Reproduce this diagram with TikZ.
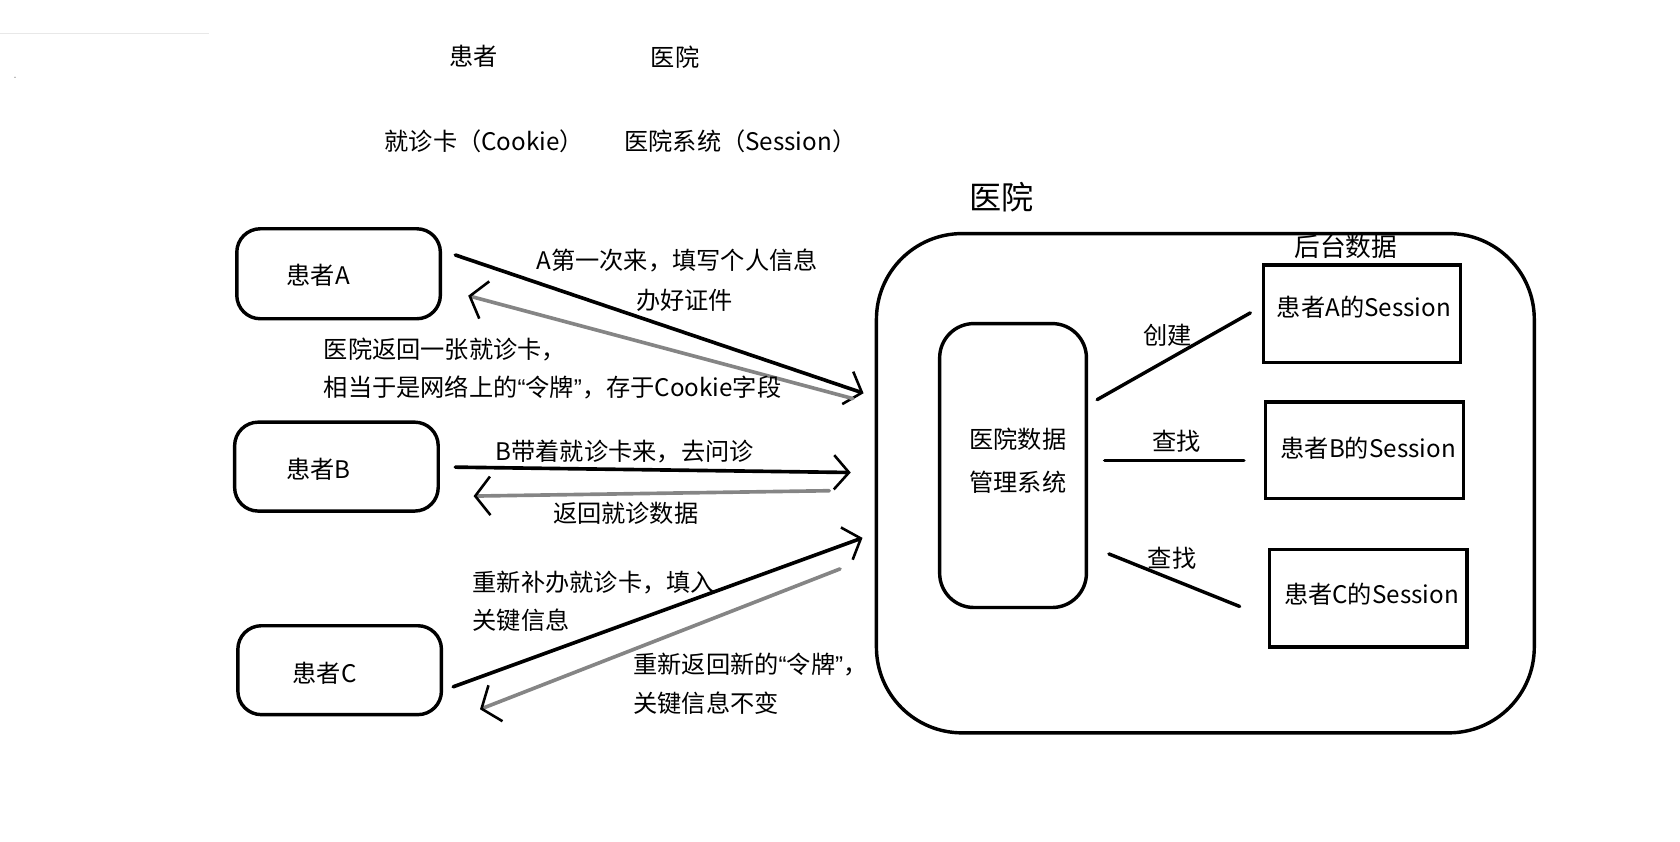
\documentclass[tikz,border=0pt]{standalone}
\usepackage{fontspec}
\setmainfont{Noto Sans CJK SC}
\newfontfamily\latq{Liberation Sans}
\newcommand{\myoq}{{\latq “}}
\newcommand{\mycq}{{\latq ”}}
\usetikzlibrary{arrows.meta}
\begin{document}
\begin{tikzpicture}[x=1pt,y=-1pt,
  txt/.style={font=\fontsize{22.6}{26}\selectfont, inner sep=0pt},
  big/.style={font=\fontsize{30}{35}\selectfont, inner sep=0pt},
  pbox/.style={draw, line width=3.2pt, rounded corners=22pt, minimum width=190pt, minimum height=84pt, inner sep=0pt},
  sbox/.style={draw, line width=3.2pt, minimum width=184pt, minimum height=91pt, inner sep=0pt},
  wire/.style={line width=3.2pt, line cap=round},
  fwd/.style={line width=3.4pt, line cap=round, -{Straight Barb[length=14pt,width=32pt,line width=2.4pt]}},
  ret/.style={line width=3.4pt, line cap=round, draw=black!48, -{Straight Barb[length=14pt,width=36pt,line width=2.4pt,color=black]}}
]
\useasboundingbox (0,0) rectangle (1568,785);
% faint header remnant
\draw[black!9, line width=1pt] (0,31) -- (195,31);
\fill[black!60] (14,72) circle (0.6pt);

% legend texts
\node[txt] (t1) at (442,53) {患者};
\node[txt] (t2) at (630,53) {医院};
\node[txt] (t3) at (452,132) {就诊卡（Cookie）};
\node[txt] (t4) at (691,132) {医院系统（Session）};
\node[big] (ttl) at (935,184) {医院};

% patients
\node[pbox] (pA) at (316,255.5) {};
\node[txt] (pAt) at (297,257) {患者A};
\node[pbox, minimum height=83pt] (pB) at (314,435.5) {};
\node[txt] (pBt) at (297,438) {患者B};
\node[pbox, minimum height=83pt] (pC) at (317,625.5) {};
\node[txt] (pCt) at (303,628) {患者C};

% hospital
\node[draw, line width=3.2pt, rounded corners=80pt, minimum width=614pt, minimum height=466pt] (hosp) at (1125,451) {};
\node[txt, font=\fontsize{24}{28}\selectfont] (bk) at (1256,230) {后台数据};
\node[draw, line width=3.2pt, rounded corners=32pt, minimum width=137pt, minimum height=265pt, inner sep=0pt] (sys) at (945.5,434.5) {};
\node[txt, align=center, font=\fontsize{22.6}{40}\selectfont] (syst) at (950,430) {医院数据\\管理系统};

\node[sbox] (sA) at (1271,293) {};
\node[txt] (sAt) at (1273,287) {患者A的Session};
\node[sbox, minimum width=185pt, minimum height=90pt] (sB) at (1273.5,420) {};
\node[txt] (sBt) at (1277,418) {患者B的Session};
\node[sbox] (sC) at (1277,558.5) {};
\node[txt] (sCt) at (1280,555) {患者C的Session};

% inner links
\coordinate (l1a) at (1024,373); \coordinate (l1b) at (1167,292);
\coordinate (l2a) at (1031,430); \coordinate (l2b) at (1161,430);
\coordinate (l3a) at (1035,517); \coordinate (l3b) at (1157,566);
\draw[wire] (l1a) -- (l1b);
\draw[wire] (l2a) -- (l2b);
\draw[wire] (l3a) -- (l3b);
\node[txt] (k1) at (1090,313) {创建};
\node[txt] (k2) at (1098,412) {查找};
\node[txt] (k3) at (1094,521) {查找};

% patient <-> hospital arrows
\coordinate (a1s) at (425,238); \coordinate (a1e) at (806,367);
\coordinate (a2s) at (796,372); \coordinate (a2e) at (437,276);
\coordinate (b1s) at (425,436); \coordinate (b1e) at (794,441);
\coordinate (b2s) at (774,458); \coordinate (b2e) at (442,463);
\coordinate (c1s) at (423,641); \coordinate (c1e) at (805,502);
\coordinate (c2s) at (784,531); \coordinate (c2e) at (448,662);
\draw[fwd] (a1s) -- (a1e);
\draw[ret] (a2s) -- (a2e);
\draw[fwd] (b1s) -- (b1e);
\draw[ret] (b2s) -- (b2e);
\draw[fwd] (c1s) -- (c1e);
\draw[ret] (c2s) -- (c2e);

% arrow labels
\node[txt] (m1) at (632,243) {A第一次来，填写个人信息};
\node[txt] (m2) at (639,280) {办好证件};
\node[txt, anchor=west] (m3) at (302,326) {医院返回一张就诊卡，};
\node[txt, anchor=west] (m4) at (302,362) {相当于是网络上的\myoq 令牌\mycq ，存于Cookie字段};
\node[txt] (m5) at (583,421) {B带着就诊卡来，去问诊};
\node[txt] (m6) at (584,479) {返回就诊数据};
\node[txt, anchor=west] (m7) at (441,544) {重新补办就诊卡，填入};
\node[txt, anchor=west] (m8) at (441,579) {关键信息};
\node[txt, anchor=west] (m9) at (591,620) {重新返回新的\myoq 令牌\mycq ，};
\node[txt, anchor=west] (m10) at (591,656) {关键信息不变};
\end{tikzpicture}
\end{document}
